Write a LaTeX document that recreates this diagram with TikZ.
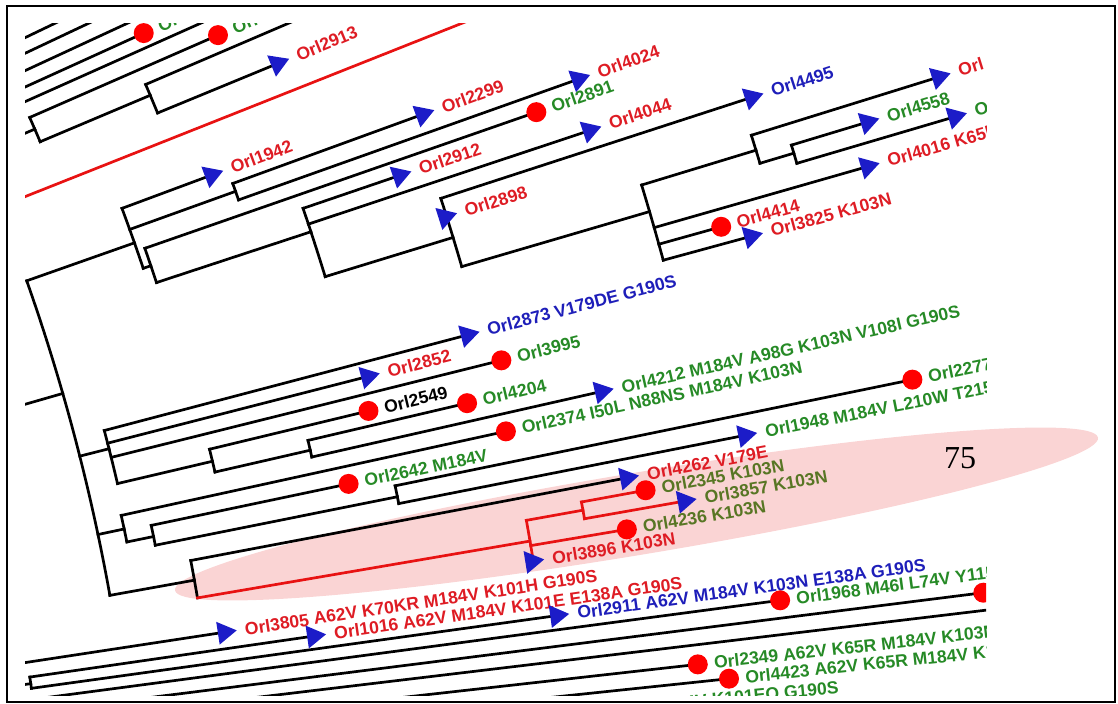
\documentclass[tikz,border=0pt]{standalone}
\usepackage{fontspec}
\usetikzlibrary{shapes.geometric}
\newfontfamily\lblfont{Liberation Sans Bold}
\newfontfamily\numfont{Liberation Serif}
\definecolor{tred}{RGB}{232,18,18}
\definecolor{lred}{RGB}{222,28,36}
\definecolor{tblue}{RGB}{28,28,200}
\definecolor{lblue}{RGB}{30,30,185}
\definecolor{lgreen}{RGB}{38,138,38}
\definecolor{lolive}{RGB}{88,118,36}
\definecolor{hlpink}{RGB}{250,212,212}
\tikzset{
  treeline/.style={line width=1.35pt, line cap=rect},
  arrowmark/.style={isosceles triangle, isosceles triangle stretches, minimum width=11.5pt, minimum height=9.5pt, inner sep=0pt, outer sep=0pt, fill=tblue, draw=none},
  dotmark/.style={circle, fill=red, minimum size=10pt, inner sep=0pt, outer sep=0pt, draw=none},
  leaflabel/.style={anchor=west, inner sep=0pt, font=\lblfont\fontsize{8.8pt}{10pt}\selectfont},
}
\newcommand\tbranch[4][]{\draw[treeline,#1] (#2:#3) -- (#2:#4);}
\newcommand\tconn[4][]{\pgfmathsetlengthmacro\rr{#2*0.5pt}\draw[treeline,#1] (#3:#2) arc[start angle=#3, end angle=#4, radius=\rr];}
\newcommand\tarrowleaf[5]{\pgfmathsetmacro\tipr{#3+11}\pgfmathsetmacro\labr{#3+19}%
  \node[arrowmark, rotate=#2, anchor=apex] (#1) at (#2:\tipr) {};
  \node[leaflabel, text=#4, rotate=#2] (#1l) at (#2:\labr) {#5};}
\newcommand\tdotleaf[5]{\pgfmathsetmacro\labr{#3+16}%
  \node[dotmark] (#1) at (#2:#3) {};
  \node[leaflabel, text=#4, rotate=#2] (#1l) at (#2:\labr) {#5};}
\begin{document}
\begin{tikzpicture}[x=0.5pt,y=0.5pt]
\useasboundingbox (0,0) rectangle (1118,-704);
% highlight
\node[ellipse, fill=hlpink, minimum width=467.8pt, minimum height=41pt, inner sep=0pt, rotate=9.4] (hl) at (636.5,-514) {};
\begin{scope}
\clip (25,-24) rectangle (986,-695);
\begin{scope}[shift={(-1881,-953)}]
% ---- top cluster
\tbranch{25.651}{1850}{2400}
\tbranch{25.268}{1850}{2400}
\tbranch{24.84}{1850}{2400}
\tbranch{24.434}{1850}{2224}
\tbranch{24.068}{1850}{2400}
\tbranch{23.27}{1850}{2085.5}
\tconn{2085.5}{22.893}{23.62}
\tbranch{23.62}{2085.5}{2291}
\tbranch{22.893}{2085.5}{2205}
\tconn{2205}{22.395}{23.198}
\tbranch{23.198}{2205}{2450}
\tbranch{22.395}{2205}{2336.3}
\tbranch[tred]{21.645}{1850}{2700}
% ---- root
\tbranch{16.06}{1850}{2022.8}
\tconn{2022.8}{10.185}{19.41}
% ---- upper subtree
\tbranch{19.41}{2022.8}{2137}
\tconn{2137}{18.688}{20.393}
\tbranch{20.393}{2137}{2234}
\tbranch{19.792}{2137}{2249.5}
\tconn{2249.5}{19.561}{20.004}
\tbranch{20.004}{2249.5}{2453}
\tbranch{19.561}{2249.5}{2611.6}
\tbranch{18.688}{2137}{2145}
\tconn{2145}{18.214}{19.18}
\tbranch{19.18}{2145}{2559.5}
\tbranch{18.214}{2145}{2307.6}
\tconn{2307.6}{17.044}{18.826}
\tbranch{18.826}{2307.6}{2411}
\tbranch{18.414}{2307.6}{2605.4}
\tbranch{17.044}{2307.6}{2441.4}
\tconn{2441.4}{16.33}{18.004}
\tbranch{18.004}{2441.4}{2769.6}
\tbranch{16.33}{2441.4}{2637}
\tconn{2637}{15.233}{16.932}
\tbranch{16.932}{2637}{2756.6}
\tconn{2756.6}{16.648}{17.258}
\tbranch{17.258}{2756.6}{2954.2}
\tbranch{16.648}{2756.6}{2792}
\tconn{2792}{16.43}{16.82}
\tbranch{16.82}{2792}{2872.8}
\tbranch{16.43}{2792}{2958.3}
\tbranch{15.968}{2637}{2860.4}
\tbranch{15.594}{2637}{2701.8}
\tbranch{15.233}{2637}{2729.3}
% ---- middle subtree
\tbranch{14.22}{2022.8}{2053}
\tconn{2053}{13.22}{14.745}
\tbranch{14.745}{2053}{2430}
\tbranch{14.38}{2053}{2323}
\tbranch{13.971}{2053}{2455}
\tbranch{13.22}{2053}{2150.5}
\tconn{2150.5}{12.924}{13.55}
\tbranch{13.55}{2150.5}{2314}
\tbranch{12.924}{2150.5}{2248.3}
\tconn{2248.3}{12.746}{13.18}
\tbranch{13.18}{2248.3}{2411.7}
\tbranch{12.746}{2248.3}{2546.8}
\tbranch{11.94}{2022.8}{2049.6}
\tconn{2049.6}{11.569}{12.328}
\tbranch{12.328}{2049.6}{2443.4}
\tbranch{11.569}{2049.6}{2076.8}
\tconn{2076.8}{11.324}{11.882}
\tbranch{11.882}{2076.8}{2278.5}
\tbranch{11.324}{2076.8}{2323.7}
\tconn{2323.7}{11.153}{11.6}
\tbranch{11.6}{2323.7}{2851.8}
\tbranch{11.153}{2323.7}{2678}
\tbranch{10.185}{2022.8}{2108.7}
\tconn{2108.7}{9.696}{10.728}
\tbranch{10.728}{2108.7}{2553.9}
\tbranch[tred]{9.696}{2108.7}{2446}
\tconn[tred]{2446}{9.22}{10.19}
\tbranch[tred]{10.19}{2446}{2503.5}
\tconn[tred]{2503.5}{9.99}{10.379}
\tbranch[tred]{10.379}{2503.5}{2568.7}
\tbranch[tred]{9.99}{2503.5}{2606.3}
\tbranch[tred]{9.589}{2446}{2543.5}
% ---- bottom
\tbranch{8.663}{1850}{2131.3}
\tbranch{8.02}{1850}{1930.7}
\tconn{1930.7}{7.88}{8.218}
\tbranch{8.218}{1930.7}{2219}
\tbranch{7.88}{1930.7}{2462.6}
\tbranch{7.55}{1850}{2684.5}
\tbranch{7.17}{1850}{2887}
\tbranch{6.82}{1850}{3100}
\tbranch{6.387}{1850}{2595}
\tbranch{6.0}{1850}{2624.4}
% ---- markers and labels
\tdotleaf{t1}{24.434}{2224}{lgreen}{Orl}
\tdotleaf{t2}{23.62}{2291}{lgreen}{Orl}
\tarrowleaf{o2913}{22.395}{2336.3}{lred}{Orl2913}
\tarrowleaf{o1942}{20.393}{2234}{lred}{Orl1942}
\tarrowleaf{o2299}{20.004}{2453}{lred}{Orl2299}
\tarrowleaf{o4024}{19.561}{2611.6}{lred}{Orl4024}
\tdotleaf{o2891}{19.18}{2559.5}{lgreen}{Orl2891}
\tarrowleaf{o2912}{18.826}{2411}{lred}{Orl2912}
\tarrowleaf{o4044}{18.414}{2605.4}{lred}{Orl4044}
\tarrowleaf{o4495}{18.004}{2769.6}{lblue}{Orl4495}
\tarrowleaf{o2898}{17.559}{2441.4}{lred}{Orl2898}
\tarrowleaf{oA}{17.258}{2954.2}{lred}{Orl}
\tarrowleaf{o4558}{16.82}{2872.8}{lgreen}{Orl4558}
\tarrowleaf{oB}{16.43}{2958.3}{lgreen}{Orl}
\tarrowleaf{o4016}{15.968}{2860.4}{lred}{Orl4016 K65R}
\tdotleaf{o4414}{15.594}{2701.8}{lred}{Orl4414}
\tarrowleaf{o3825}{15.233}{2729.3}{lred}{Orl3825 K103N}
\tarrowleaf{o2873}{14.745}{2430}{lblue}{Orl2873 V179DE G190S}
\tarrowleaf{o2852}{14.38}{2323}{lred}{Orl2852}
\tdotleaf{o3995}{13.971}{2455}{lgreen}{Orl3995}
\tdotleaf{o2549}{13.55}{2314}{black}{Orl2549}
\tdotleaf{o4204}{13.18}{2411.7}{lgreen}{Orl4204}
\tarrowleaf{o4212}{12.746}{2546.8}{lgreen}{Orl4212 M184V A98G K103N V108I G190S}
\tdotleaf{o2374}{12.328}{2443.4}{lgreen}{Orl2374 I50L N88NS M184V K103N}
\tdotleaf{o2642}{11.882}{2278.5}{lgreen}{Orl2642 M184V}
\tdotleaf{o2277}{11.6}{2851.8}{lgreen}{Orl2277}
\tarrowleaf{o1948}{11.153}{2678}{lgreen}{Orl1948 M184V L210W T215Y}
\tarrowleaf{o4262}{10.728}{2553.9}{lred}{Orl4262 V179E}
\tdotleaf{o2345}{10.379}{2568.7}{lolive}{Orl2345 K103N}
\tarrowleaf{o3857}{9.99}{2606.3}{lolive}{Orl3857 K103N}
\tdotleaf{o4236}{9.589}{2543.5}{lolive}{Orl4236 K103N}
\tarrowleaf{o3896}{9.22}{2446}{lred}{Orl3896 K103N}
\tarrowleaf{o3805}{8.663}{2131.3}{lred}{Orl3805 A62V K70KR M184V K101H G190S}
\tarrowleaf{o1016}{8.218}{2219}{lred}{Orl1016 A62V M184V K101E E138A G190S}
\tarrowleaf{o2911}{7.88}{2462.6}{lblue}{Orl2911 A62V M184V K103N E138A G190S}
\tdotleaf{o1968}{7.55}{2684.5}{lgreen}{Orl1968 M46I L74V Y115F}
\node[dotmark] (oC) at (7.17:2887) {};
\tdotleaf{o2349}{6.387}{2595}{lgreen}{Orl2349 A62V K65R M184V K103N}
\tdotleaf{o4423}{6.0}{2624.4}{lgreen}{Orl4423 A62V K65R M184V K103N}
\node[leaflabel, anchor=east, text=lgreen, rotate=5.544] (obot) at (5.544:2733) {M184V K101EQ G190S};
\end{scope}
\end{scope}
\node[font=\numfont\fontsize{16pt}{18pt}\selectfont, inner sep=0pt] (n75) at (960,-458) {75};
\draw[line width=1pt] (7,-6) rectangle (1115,-702);
\end{tikzpicture}
\end{document}
